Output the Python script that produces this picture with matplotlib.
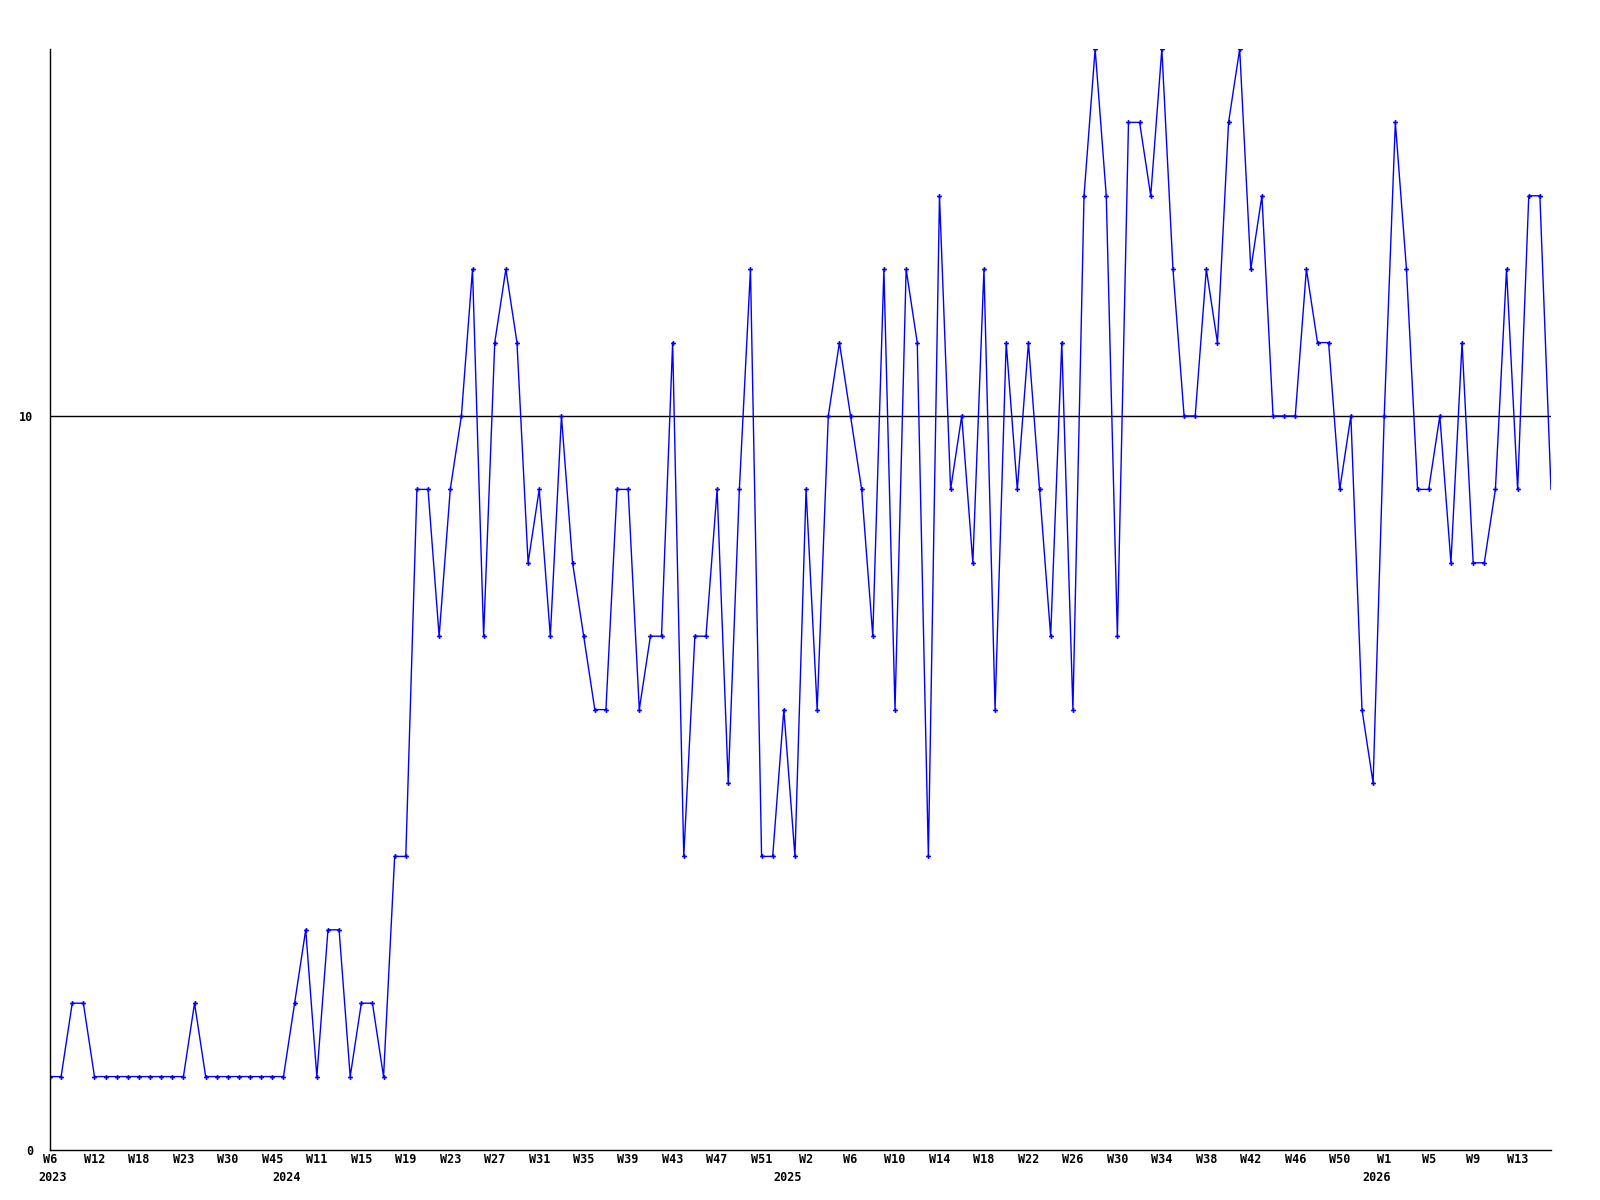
import matplotlib
matplotlib.use("Agg")
import matplotlib.pyplot as plt

# 주간 값 (136개 포인트)
values = [1, 1, 2, 2, 1, 1, 1, 1, 1, 1, 1, 1, 1, 2, 1, 1, 1, 1, 1, 1,
          1, 1, 2, 3, 1, 3, 3, 1, 2, 2, 1, 4, 4, 9, 9, 7, 9, 10, 12, 7,
          11, 12, 11, 8, 9, 7, 10, 8, 7, 6, 6, 9, 9, 6, 7, 7, 11, 4, 7, 7,
          9, 5, 9, 12, 4, 4, 6, 4, 9, 6, 10, 11, 10, 9, 7, 12, 6, 12, 11, 4,
          13, 9, 10, 8, 12, 6, 11, 9, 11, 9, 7, 11, 6, 13, 15, 13, 7, 14, 14, 13,
          15, 12, 10, 10, 12, 11, 14, 15, 12, 13, 10, 10, 10, 12, 11, 11, 9, 10, 6, 5,
          10, 14, 12, 9, 9, 10, 8, 11, 8, 8, 9, 12, 9, 13, 13, 9]

# x축 라벨 (4포인트마다)
week_labels = ["W6", "W12", "W18", "W23", "W30", "W45", "W11", "W15", "W19",
               "W23", "W27", "W31", "W35", "W39", "W43", "W47", "W51", "W2",
               "W6", "W10", "W14", "W18", "W22", "W26", "W30", "W34", "W38",
               "W42", "W46", "W50", "W1", "W5", "W9", "W13"]
year_labels = ["2023", "2024", "2025", "2026"]
year_index = [0, 22, 67, 120]

font = dict(family="DejaVu Sans Mono", fontsize=8.5, fontweight="bold")

fig = plt.figure(figsize=(16, 12), dpi=100)
ax = fig.add_axes([50 / 1600, 1 - 1150 / 1200, 1501 / 1600, 1101 / 1200])

x = list(range(len(values)))
ax.plot(x, values, color="#0000ff", linewidth=1.0, marker="P", markersize=3.5,
        markeredgewidth=0, markevery=list(range(len(values) - 1)))
ax.axhline(10, color="black", linewidth=1.0, zorder=0)

ax.set_xlim(0, len(values) - 1)
ax.set_ylim(0, 15)

for s in ["top", "right"]:
    ax.spines[s].set_visible(False)
for s in ["left", "bottom"]:
    ax.spines[s].set_linewidth(1.0)

ax.set_yticks([0, 10])
ax.set_yticklabels(["0", "10"], **font)
ax.tick_params(axis="y", length=0, pad=12)

ax.set_xticks(range(0, len(values), 4))
ax.set_xticklabels(week_labels, **font)
ax.tick_params(axis="x", length=0, pad=2.5)

for lab, idx in zip(year_labels, year_index):
    off = -12 if idx == 0 else -22
    ax.annotate(lab, xy=(idx, 0), xycoords="data",
                xytext=(off * 0.72, -15), textcoords="offset points",
                ha="left", va="top", **font)

plt.savefig("out.png", dpi=100)
